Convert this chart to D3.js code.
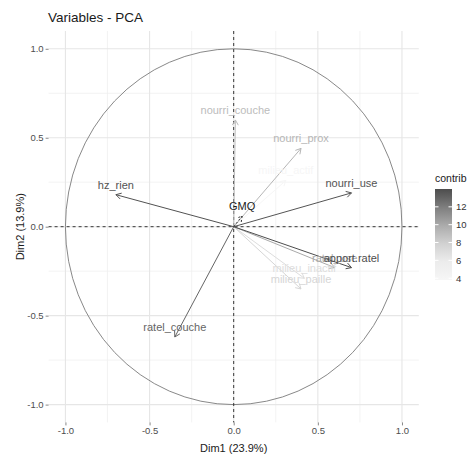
<!DOCTYPE html>
<html>
<head>
<meta charset="utf-8">
<script src="https://cdn.jsdelivr.net/npm/d3@7"></script>
<style>
  body { margin: 0; background: #fff; }
  text { font-family: "Liberation Sans", Arial, sans-serif; }
</style>
</head>
<body>
<div id="vis"></div>
<script>
// chart size
const FRAME_WIDTH = 468;
const FRAME_HEIGHT = 454;
const PANEL = {left: 48.6, right: 418.8, top: 31, bottom: 422.4};

// active variables (coords on Dim1 / Dim2, contribution)
const varNames = ["hz_rien", "ratel_couche", "nourri_couche", "nourri_prox", "milieu_actif",
                  "nourri_use", "apport.ratel", "ratel_use", "milieu_inactif", "milieu_paille"];
const dim1 = [-0.70, -0.35, 0.01, 0.40, 0.31, 0.70, 0.70, 0.60, 0.42, 0.40];
const dim2 = [0.18, -0.62, 0.60, 0.44, 0.26, 0.19, -0.23, -0.23, -0.29, -0.35];
const contrib = [13.8, 13.0, 9.0, 9.3, 3.8, 13.7, 14.0, 10.0, 7.0, 7.5];

// supplementary variable
const supNames = ["GMQ"];
const supDim1 = [0.05];
const supDim2 = [0.06];

// axis ticks
const majorTicks = [-1, -0.5, 0, 0.5, 1];
const minorTicks = [-0.75, -0.25, 0.25, 0.75];
const legendTicks = [4, 6, 8, 10, 12];

const FRAME = d3.select("#vis")
  .append("svg")
    .attr("width", FRAME_WIDTH)
    .attr("height", FRAME_HEIGHT);

const X_SCALE = d3.scaleLinear().domain([-1.1, 1.1]).range([PANEL.left, PANEL.right]);
const Y_SCALE = d3.scaleLinear().domain([-1.1, 1.1]).range([PANEL.bottom, PANEL.top]);

const COLOR = d3.scaleLinear()
  .domain([3.8, 6, 8, 10, 12, 14])
  .range(["#f6f6f6", "#ebebeb", "#cfcfcf", "#a9a9a9", "#7d7d7d", "#4d4d4d"]);

// grid
const grid = FRAME.append("g");
grid.selectAll(".minx").data(minorTicks).enter().append("line")
  .attr("x1", d => X_SCALE(d)).attr("x2", d => X_SCALE(d))
  .attr("y1", PANEL.top).attr("y2", PANEL.bottom)
  .attr("stroke", "#f0f0f0").attr("stroke-width", 0.8);
grid.selectAll(".miny").data(minorTicks).enter().append("line")
  .attr("y1", d => Y_SCALE(d)).attr("y2", d => Y_SCALE(d))
  .attr("x1", PANEL.left).attr("x2", PANEL.right)
  .attr("stroke", "#f0f0f0").attr("stroke-width", 0.8);
grid.selectAll(".majx").data(majorTicks).enter().append("line")
  .attr("x1", d => X_SCALE(d)).attr("x2", d => X_SCALE(d))
  .attr("y1", PANEL.top).attr("y2", PANEL.bottom)
  .attr("stroke", "#e6e6e6").attr("stroke-width", 1.1);
grid.selectAll(".majy").data(majorTicks).enter().append("line")
  .attr("y1", d => Y_SCALE(d)).attr("y2", d => Y_SCALE(d))
  .attr("x1", PANEL.left).attr("x2", PANEL.right)
  .attr("stroke", "#e6e6e6").attr("stroke-width", 1.1);

// axes
const xAxis = FRAME.append("g")
  .attr("transform", "translate(0," + PANEL.bottom + ")")
  .call(d3.axisBottom(X_SCALE).tickValues(majorTicks).tickSize(3).tickPadding(2)
    .tickFormat(d => d.toFixed(1)));
const yAxis = FRAME.append("g")
  .attr("transform", "translate(" + PANEL.left + ",0)")
  .call(d3.axisLeft(Y_SCALE).tickValues(majorTicks).tickSize(3).tickPadding(2)
    .tickFormat(d => d.toFixed(1)));
[xAxis, yAxis].forEach(a => {
  a.select(".domain").remove();
  a.selectAll(".tick line").attr("stroke", "#888");
  a.selectAll(".tick text").attr("fill", "#4d4d4d")
    .style("font-size", "9.5px").style("font-family", "Liberation Sans, Arial, sans-serif");
});

// correlation circle
FRAME.append("ellipse")
  .attr("cx", X_SCALE(0)).attr("cy", Y_SCALE(0))
  .attr("rx", X_SCALE(1) - X_SCALE(0)).attr("ry", Y_SCALE(0) - Y_SCALE(1))
  .attr("fill", "none").attr("stroke", "#7a7a7a").attr("stroke-width", 0.9);

// dashed zero lines
FRAME.append("line")
  .attr("x1", X_SCALE(0)).attr("x2", X_SCALE(0))
  .attr("y1", PANEL.top).attr("y2", PANEL.bottom)
  .attr("stroke", "#222").attr("stroke-width", 0.9).attr("stroke-dasharray", "3,3");
FRAME.append("line")
  .attr("y1", Y_SCALE(0)).attr("y2", Y_SCALE(0))
  .attr("x1", PANEL.left).attr("x2", PANEL.right)
  .attr("stroke", "#222").attr("stroke-width", 0.9).attr("stroke-dasharray", "3,3");

// arrow path from origin to (a, b)
function arrowPath(a, b) {
  const x0 = X_SCALE(0), y0 = Y_SCALE(0);
  const x1 = X_SCALE(a), y1 = Y_SCALE(b);
  const ang = Math.atan2(y1 - y0, x1 - x0);
  const L = 6, s = Math.PI / 6;
  const p1 = [x1 - L * Math.cos(ang - s), y1 - L * Math.sin(ang - s)];
  const p2 = [x1 - L * Math.cos(ang + s), y1 - L * Math.sin(ang + s)];
  return "M" + x0 + "," + y0 + "L" + x1 + "," + y1 +
         "M" + p1[0] + "," + p1[1] + "L" + x1 + "," + y1 + "L" + p2[0] + "," + p2[1];
}

// order so darker ones are on top
const idx = d3.range(varNames.length).sort((i, j) => contrib[i] - contrib[j]);

FRAME.selectAll(".arrow")
  .data(idx)
  .enter()
  .append("path")
    .attr("d", i => arrowPath(dim1[i], dim2[i]))
    .attr("fill", "none")
    .attr("stroke", i => COLOR(contrib[i]))
    .attr("stroke-width", 1);

FRAME.selectAll(".lab")
  .data(idx)
  .enter()
  .append("text")
    .attr("x", i => X_SCALE(dim1[i]))
    .attr("y", i => Y_SCALE(dim2[i]) - 6)
    .attr("text-anchor", "middle")
    .attr("fill", i => COLOR(contrib[i]))
    .style("font-size", "11px")
    .text(i => varNames[i]);

// supplementary variable (dashed)
FRAME.selectAll(".sup")
  .data(supNames)
  .enter()
  .append("path")
    .attr("d", (d, i) => arrowPath(supDim1[i], supDim2[i]))
    .attr("fill", "none")
    .attr("stroke", "#333")
    .attr("stroke-width", 1)
    .attr("stroke-dasharray", "2,2");
FRAME.selectAll(".suplab")
  .data(supNames)
  .enter()
  .append("text")
    .attr("x", (d, i) => X_SCALE(supDim1[i]))
    .attr("y", (d, i) => Y_SCALE(supDim2[i]) - 6)
    .attr("text-anchor", "middle")
    .attr("fill", "#1a1a1a")
    .style("font-size", "11px")
    .text(d => d);

// title and axis titles
FRAME.append("text")
  .attr("x", 48).attr("y", 22)
  .attr("fill", "#1a1a1a")
  .style("font-size", "13.5px")
  .text("Variables - PCA");
FRAME.append("text")
  .attr("x", (PANEL.left + PANEL.right) / 2).attr("y", 452)
  .attr("text-anchor", "middle")
  .attr("fill", "#1a1a1a")
  .style("font-size", "11px")
  .text("Dim1 (23.9%)");
FRAME.append("text")
  .attr("transform", "translate(24," + ((PANEL.top + PANEL.bottom) / 2) + ") rotate(-90)")
  .attr("text-anchor", "middle")
  .attr("fill", "#1a1a1a")
  .style("font-size", "11px")
  .text("Dim2 (13.9%)");

// legend colour bar
const LEG = {x: 435, w: 17, top: 189, bottom: 280};
const cExt = d3.extent(contrib);
const L_SCALE = d3.scaleLinear().domain(cExt).range([LEG.bottom, LEG.top]);

const defs = FRAME.append("defs");
const grad = defs.append("linearGradient")
  .attr("id", "cgrad").attr("x1", 0).attr("y1", 1).attr("x2", 0).attr("y2", 0);
d3.range(0, 1.0001, 0.1).forEach(t => {
  grad.append("stop")
    .attr("offset", t)
    .attr("stop-color", COLOR(cExt[0] + t * (cExt[1] - cExt[0])));
});
FRAME.append("rect")
  .attr("x", LEG.x).attr("y", LEG.top)
  .attr("width", LEG.w).attr("height", LEG.bottom - LEG.top)
  .attr("fill", "url(#cgrad)");
FRAME.selectAll(".lt")
  .data(legendTicks)
  .enter()
  .append("path")
    .attr("d", d => "M" + LEG.x + "," + L_SCALE(d) + "h3.5M" + (LEG.x + LEG.w) + "," + L_SCALE(d) + "h-3.5")
    .attr("stroke", "#fff").attr("stroke-width", 1);
FRAME.selectAll(".ll")
  .data(legendTicks)
  .enter()
  .append("text")
    .attr("x", LEG.x + LEG.w + 4)
    .attr("y", d => L_SCALE(d) + 3.5)
    .attr("fill", "#333")
    .style("font-size", "9.5px")
    .text(d => d);
FRAME.append("text")
  .attr("x", LEG.x).attr("y", 182)
  .attr("fill", "#1a1a1a")
  .style("font-size", "10.5px")
  .text("contrib");
</script>
</body>
</html>
